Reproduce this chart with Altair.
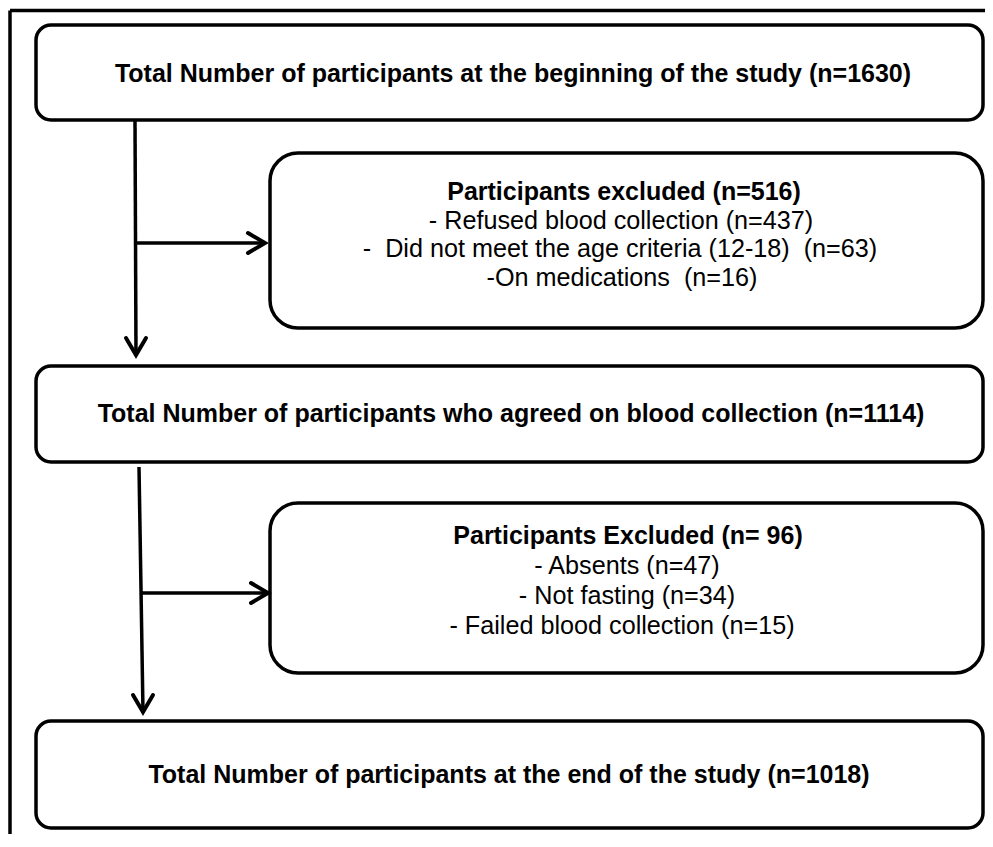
import altair as alt
import pandas as pd

NB = "\u00a0"  # keeps the double spaces of the original wording visible

# ---------------- content ----------------
stage_labels = [
    "Total Number of participants at the beginning of the study",
    "Total Number of participants who agreed on blood collection",
    "Total Number of participants at the end of the study",
]
stage_n = [1630, 1114, 1018]

excl_titles = ["Participants excluded", "Participants Excluded"]
excl_n_text = ["(n=516)", "(n= 96)"]

reasons_1 = ["- Refused blood collection", f"-{NB} Did not meet the age criteria (12-18){NB}", f"-On medications{NB}"]
reasons_1_n = [437, 63, 16]
reasons_2 = ["- Absents", "- Not fasting", "- Failed blood collection"]
reasons_2_n = [47, 34, 15]

# ---------------- layout (pixel positions of the page) ----------------
W, H = 977, 826
X0, Y0 = 8, 8
xs = alt.Scale(domain=[X0, X0 + W], nice=False, zero=False)
ys = alt.Scale(domain=[Y0 + H, Y0], nice=False, zero=False)

main_box_y = [(25, 120), (366, 462), (721, 828)]
side_box_y = [(153, 328), (503, 673)]
main_box_x = (36, 983)
side_box_x = (270, 983)

main_text_pos = [(513, 74), (511, 414), (509, 775)]
side1_pos = [(624, 192), (621, 220.5), (620, 249), (622, 277.5)]
side2_pos = [(628, 536), (627, 566), (627, 596), (622, 626)]

FONT = "Liberation Sans"
LW = 3.5

main_boxes = pd.DataFrame({
    "x": [main_box_x[0]] * 3, "x2": [main_box_x[1]] * 3,
    "y": [a for a, b in main_box_y], "y2": [b for a, b in main_box_y],
})
side_boxes = pd.DataFrame({
    "x": [side_box_x[0]] * 2, "x2": [side_box_x[1]] * 2,
    "y": [a for a, b in side_box_y], "y2": [b for a, b in side_box_y],
})

bold_rows = []
for (px, py), lab, n in zip(main_text_pos, stage_labels, stage_n):
    bold_rows.append({"x": px, "y": py, "t": f"{lab} (n={n})"})
bold_rows.append({"x": side1_pos[0][0], "y": side1_pos[0][1], "t": f"{excl_titles[0]} {excl_n_text[0]}"})
bold_rows.append({"x": side2_pos[0][0], "y": side2_pos[0][1], "t": f"{excl_titles[1]} {excl_n_text[1]}"})
bold_df = pd.DataFrame(bold_rows)

reg_rows = []
for (px, py), lab, n in zip(side1_pos[1:], reasons_1, reasons_1_n):
    reg_rows.append({"x": px, "y": py, "t": f"{lab} (n={n})"})
for (px, py), lab, n in zip(side2_pos[1:], reasons_2, reasons_2_n):
    reg_rows.append({"x": px, "y": py, "t": f"{lab} (n={n})"})
reg_df = pd.DataFrame(reg_rows)

# connector lines
lines = pd.DataFrame({
    "x":  [135, 137, 139, 141],
    "y":  [120, 243, 467, 593],
    "x2": [136, 265, 143, 268],
    "y2": [355, 243, 712, 593],
})
# chevron arrowheads (wing, tip, wing)
heads = []
for k, (tx, ty, d) in enumerate([(136, 355, "down"), (265, 243, "right"), (143, 712, "down"), (268, 593, "right")]):
    if d == "down":
        pts = [(tx - 10, ty - 17), (tx, ty), (tx + 10, ty - 17)]
    else:
        pts = [(tx - 17, ty - 10), (tx, ty), (tx - 17, ty + 10)]
    for o, (px, py) in enumerate(pts):
        heads.append({"id": k, "o": o, "x": px, "y": py})
heads = pd.DataFrame(heads)

frame = pd.DataFrame({"x": [10, 10], "y": [10.5, 10.5], "x2": [10, 985], "y2": [834, 10.5]})

X = lambda f="x": alt.X(f"{f}:Q", scale=xs, axis=None)
Y = lambda f="y": alt.Y(f"{f}:Q", scale=ys, axis=None)

frame_l = alt.Chart(frame).mark_rule(color="black", strokeWidth=3.5).encode(
    x=X(), y=Y(), x2="x2:Q", y2="y2:Q")

main_l = alt.Chart(main_boxes).mark_rect(
    fill="white", stroke="black", strokeWidth=LW, cornerRadius=15
).encode(x=X(), x2="x2:Q", y=Y(), y2="y2:Q")

side_l = alt.Chart(side_boxes).mark_rect(
    fill="white", stroke="black", strokeWidth=LW, cornerRadius=28
).encode(x=X(), x2="x2:Q", y=Y(), y2="y2:Q")

line_l = alt.Chart(lines).mark_rule(color="black", strokeWidth=LW, strokeCap="butt").encode(
    x=X(), y=Y(), x2="x2:Q", y2="y2:Q")

head_l = alt.Chart(heads).mark_line(color="black", strokeWidth=4, strokeCap="round", strokeJoin="miter").encode(
    x=X(), y=Y(), detail="id:N", order="o:Q")

bold_l = alt.Chart(bold_df).mark_text(
    font=FONT, fontSize=25, fontWeight="bold", color="black", align="center", baseline="middle"
).encode(x=X(), y=Y(), text="t:N")

reg_l = alt.Chart(reg_df).mark_text(
    font=FONT, fontSize=25.2, color="black", align="center", baseline="middle"
).encode(x=X(), y=Y(), text="t:N")

chart = alt.layer(frame_l, main_l, side_l, line_l, head_l, bold_l, reg_l).properties(
    width=W, height=H,
    autosize=alt.AutoSizeParams(type="none"),
    padding=0,
    background="white",
).configure_view(stroke=None)

chart.save("out.html", embed_options={"renderer": "svg", "actions": False})
